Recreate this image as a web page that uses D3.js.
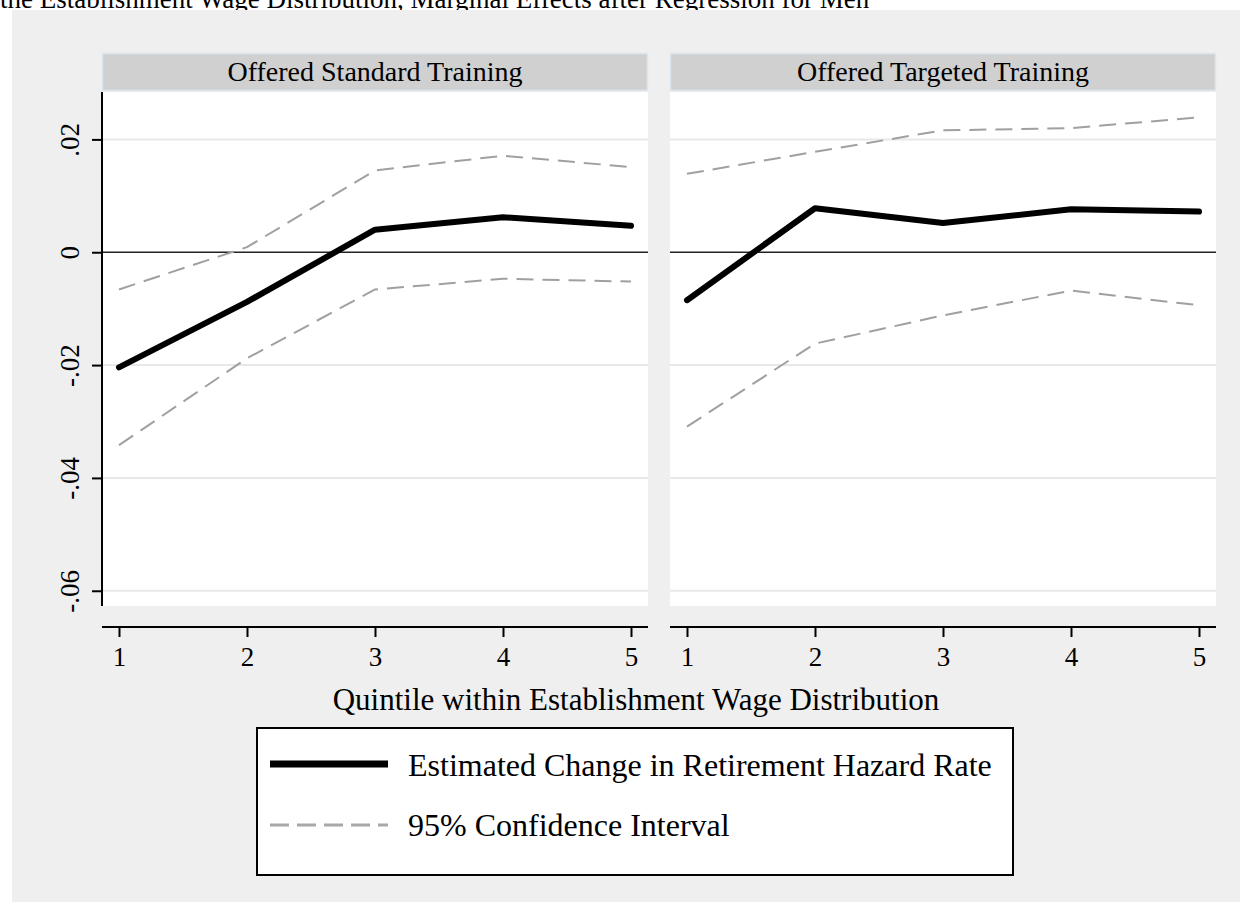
<!DOCTYPE html>
<html lang="en">
  <head>
    <meta charset="utf-8">
    <title>Marginal Effects after Regression for Men</title>
    <script src="https://d3js.org/d3.v7.min.js"></script>
    <style>
      body { margin: 0; background: #fff; }
      text { font-family: "Liberation Serif", "Times New Roman", serif; fill: #000; }
    </style>
  </head>
  <body>
    <script>

    // data
    var quintiles = [1, 2, 3, 4, 5];
    var panels = ["Offered Standard Training", "Offered Targeted Training"];
    var yTicks = [0.02, 0, -0.02, -0.04, -0.06];
    var yTickLabels = [".02", "0", "-.02", "-.04", "-.06"];

    var standardEst = [-0.0204, -0.0088, 0.0040, 0.0062, 0.0047];
    var standardHi  = [-0.0066, 0.0009, 0.0145, 0.0171, 0.0151];
    var standardLo  = [-0.0342, -0.0188, -0.0066, -0.0047, -0.0052];

    var targetedEst = [-0.0085, 0.0078, 0.0052, 0.0076, 0.0072];
    var targetedHi  = [0.0139, 0.0178, 0.0216, 0.0220, 0.0239];
    var targetedLo  = [-0.0309, -0.0162, -0.0112, -0.0068, -0.0094];

    var legendLabels = ["Estimated Change in Retirement Hazard Rate", "95% Confidence Interval"];

    var w = 1249;
    var h = 911;

    var svg = d3.select("body")
      .append("svg")
      .attr("width", w)
      .attr("height", h);

    // title line, cut off at the top as in the source
    svg.append("text")
      .attr("x", 0)
      .attr("y", 8)
      .style("font-size", "27px")
      .text("the Establishment Wage Distribution, Marginal Effects after Regression for Men");

    // outer grey graph region
    svg.append("rect")
      .attr("x", 12)
      .attr("y", 10)
      .attr("width", 1228)
      .attr("height", 892)
      .attr("fill", "#efefef");

    var plotTop = 92, plotBottom = 606;
    var panelX = [102, 670];
    var panelW = 546;

    var yScale = d3.scaleLinear()
      .domain([-0.0627, 0.0284])
      .range([plotBottom, plotTop]);

    var xScale = d3.scaleLinear()
      .domain([1, 5])
      .range([17, panelW - 17]);

    var line = d3.line()
      .x((d, i) => xScale(quintiles[i]))
      .y(d => yScale(d));

    var series = [
      { est: standardEst, hi: standardHi, lo: standardLo },
      { est: targetedEst, hi: targetedHi, lo: targetedLo }
    ];

    panels.forEach(function(title, p) {
      var g = svg.append("g")
        .attr("transform", "translate(" + panelX[p] + ",0)");

      // strip header
      g.append("rect")
        .attr("x", 0.5)
        .attr("y", 53.5)
        .attr("width", panelW - 1)
        .attr("height", 37)
        .attr("fill", "#d0d0d0")
        .attr("stroke", "#dce6ee")
        .attr("stroke-width", 1.5);

      g.append("text")
        .attr("x", panelW / 2)
        .attr("y", 81)
        .attr("text-anchor", "middle")
        .style("font-size", "28px")
        .text(title);

      // plot area
      g.append("rect")
        .attr("x", 0)
        .attr("y", plotTop)
        .attr("width", panelW)
        .attr("height", plotBottom - plotTop)
        .attr("fill", "#fff");

      // gridlines
      g.selectAll("line.grid")
        .data(yTicks.filter(d => d !== 0))
        .enter()
        .append("line")
        .attr("class", "grid")
        .attr("x1", 0)
        .attr("x2", panelW)
        .attr("y1", d => yScale(d))
        .attr("y2", d => yScale(d))
        .attr("stroke", "#e8e8e8")
        .attr("stroke-width", 2);

      // zero line
      g.append("line")
        .attr("x1", 0)
        .attr("x2", panelW)
        .attr("y1", yScale(0))
        .attr("y2", yScale(0))
        .attr("stroke", "#222")
        .attr("stroke-width", 1.5);

      // confidence bands
      [series[p].hi, series[p].lo].forEach(function(s) {
        g.append("path")
          .datum(s)
          .attr("d", line)
          .attr("fill", "none")
          .attr("stroke", "#a0a0a0")
          .attr("stroke-width", 2)
          .attr("stroke-dasharray", "17,9");
      });

      // estimate
      g.append("path")
        .datum(series[p].est)
        .attr("d", line)
        .attr("fill", "none")
        .attr("stroke", "#000")
        .attr("stroke-width", 6)
        .attr("stroke-linejoin", "round")
        .attr("stroke-linecap", "round");

      // x axis
      var xAxis = d3.axisBottom(xScale)
        .tickValues(quintiles)
        .tickSize(10)
        .tickPadding(10)
        .tickSizeOuter(0)
        .tickFormat(d3.format("d"));

      var xg = g.append("g")
        .attr("transform", "translate(0,627)")
        .call(xAxis);
      xg.select(".domain")
        .attr("d", "M0,0H" + panelW)
        .attr("stroke", "#000")
        .attr("stroke-width", 2);
      xg.selectAll(".tick line").attr("stroke", "#000").attr("stroke-width", 2);
      xg.selectAll(".tick text")
        .style("font-size", "27px")
        .style("font-family", "Liberation Serif, Times New Roman, serif")
        .attr("fill", "#000");
    });

    // y axis on left panel
    var yAxis = d3.axisLeft(yScale)
      .tickValues(yTicks)
      .tickSize(10)
      .tickSizeOuter(0)
      .tickFormat((d, i) => yTickLabels[i]);

    var yg = svg.append("g")
      .attr("transform", "translate(" + panelX[0] + ",0)")
      .call(yAxis);
    yg.select(".domain")
      .attr("d", "M0," + plotTop + "V" + plotBottom)
      .attr("stroke", "#000")
      .attr("stroke-width", 2);
    yg.selectAll(".tick line").attr("stroke", "#000").attr("stroke-width", 2);
    yg.selectAll(".tick text")
      .attr("x", null)
      .attr("dy", null)
      .attr("transform", "translate(-23,0) rotate(-90)")
      .attr("text-anchor", "middle")
      .attr("y", 0)
      .style("font-size", "27px")
      .style("font-family", "Liberation Serif, Times New Roman, serif")
      .attr("fill", "#000");

    // x axis title
    svg.append("text")
      .attr("x", 636)
      .attr("y", 710)
      .attr("text-anchor", "middle")
      .style("font-size", "31px")
      .text("Quintile within Establishment Wage Distribution");

    // legend
    var lg = svg.append("g");
    lg.append("rect")
      .attr("x", 257)
      .attr("y", 728)
      .attr("width", 756)
      .attr("height", 147)
      .attr("fill", "#fff")
      .attr("stroke", "#000")
      .attr("stroke-width", 2);

    lg.append("line")
      .attr("x1", 270).attr("x2", 388)
      .attr("y1", 764).attr("y2", 764)
      .attr("stroke", "#000")
      .attr("stroke-width", 7);

    lg.append("line")
      .attr("x1", 270).attr("x2", 388)
      .attr("y1", 825).attr("y2", 825)
      .attr("stroke", "#a8a8a8")
      .attr("stroke-width", 3)
      .attr("stroke-dasharray", "19,8");

    lg.selectAll("text")
      .data(legendLabels)
      .enter()
      .append("text")
      .attr("x", 408)
      .attr("y", (d, i) => 776 + i * 60)
      .style("font-size", "32px")
      .text(d => d);

    </script>
  </body>
</html>
